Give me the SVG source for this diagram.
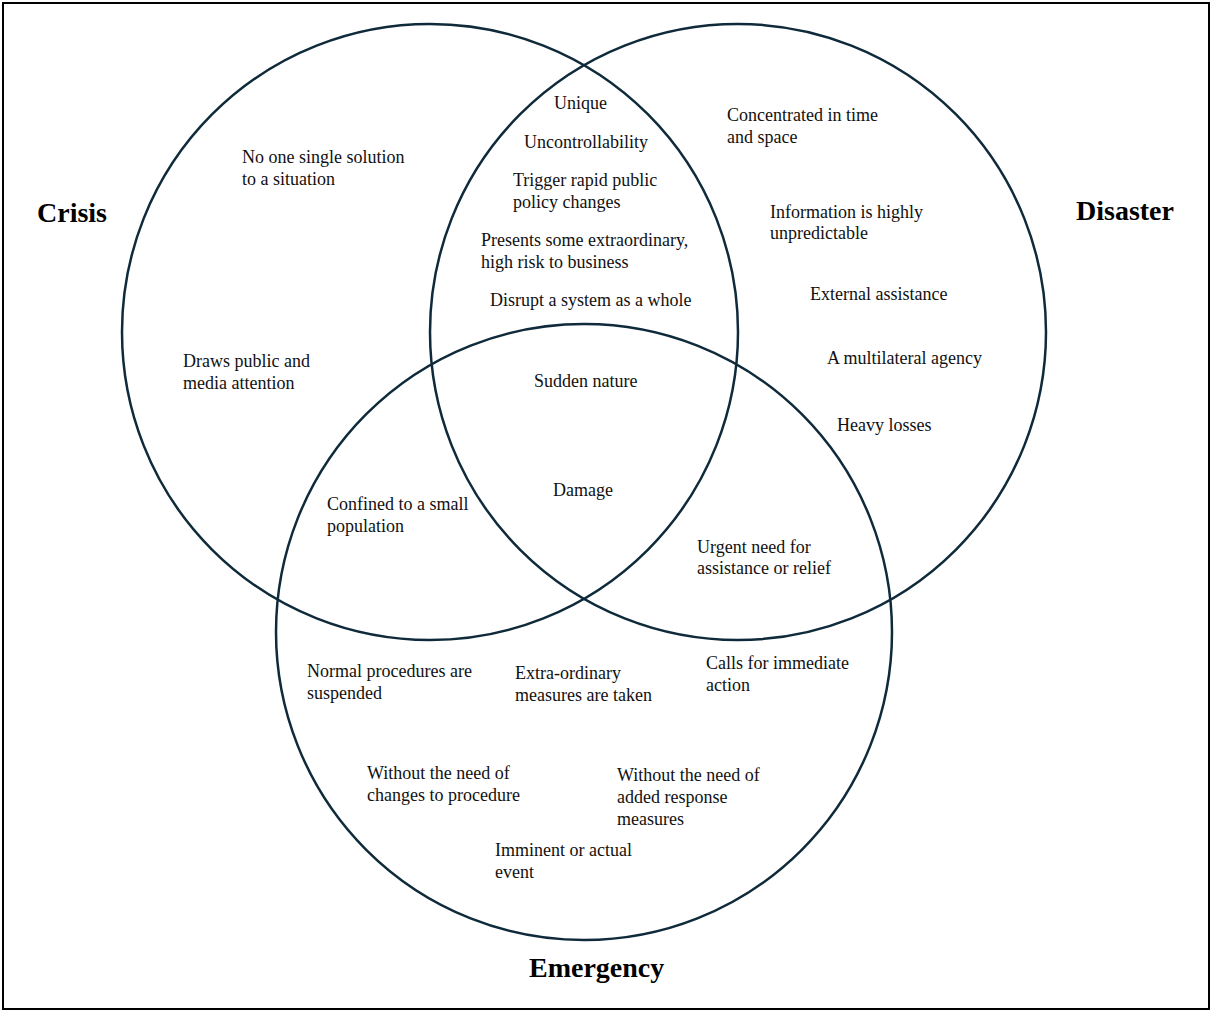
<svg xmlns="http://www.w3.org/2000/svg" width="1212" height="1012" viewBox="0 0 1212 1012">
<style>
.c{fill:none;stroke:#0f2a3a;stroke-width:2.5}
.t{font-family:"Liberation Serif","Times New Roman",serif;font-size:18px;fill:#111}
.h{font-family:"Liberation Serif","Times New Roman",serif;font-size:28px;font-weight:bold;fill:#000}
</style>
<rect x="0" y="0" width="1212" height="1012" fill="#fff"/>
<rect x="3" y="3" width="1206" height="1006" fill="none" stroke="#000" stroke-width="2"/>
<g id="circles">
<circle id="crisis-circle" class="c" cx="430" cy="332" r="308"/>
<circle id="disaster-circle" class="c" cx="738" cy="332" r="308"/>
<circle id="emergency-circle" class="c" cx="584" cy="632" r="308"/>
</g>
<g id="titles">
<text id="crisis" class="h" x="37" y="222">Crisis</text>
<text id="disaster" class="h" x="1076" y="220">Disaster</text>
<text id="emergency" class="h" x="529" y="977">Emergency</text>
</g>
<g id="crisis-disaster">
<text class="t" x="554" y="109">Unique</text>
<text class="t" x="524" y="148">Uncontrollability</text>
<text class="t" x="513" y="186">Trigger rapid public</text>
<text class="t" x="513" y="208">policy changes</text>
<text class="t" x="481" y="246">Presents some extraordinary,</text>
<text class="t" x="481" y="268">high risk to business</text>
<text class="t" x="490" y="306">Disrupt a system as a whole</text>
</g>
<g id="crisis-only">
<text class="t" x="242" y="163">No one single solution</text>
<text class="t" x="242" y="185">to a situation</text>
<text class="t" x="183" y="367">Draws public and</text>
<text class="t" x="183" y="389">media attention</text>
</g>
<g id="disaster-only">
<text class="t" x="727" y="121">Concentrated in time</text>
<text class="t" x="727" y="143">and space</text>
<text class="t" x="770" y="218">Information is highly</text>
<text class="t" x="770" y="239">unpredictable</text>
<text class="t" x="810" y="300">External assistance</text>
<text class="t" x="827" y="364">A multilateral agency</text>
<text class="t" x="837" y="431">Heavy losses</text>
</g>
<g id="all-three">
<text class="t" x="534" y="387">Sudden nature</text>
<text class="t" x="553" y="496">Damage</text>
</g>
<g id="crisis-emergency">
<text class="t" x="327" y="510">Confined to a small</text>
<text class="t" x="327" y="532">population</text>
</g>
<g id="disaster-emergency">
<text class="t" x="697" y="553">Urgent need for</text>
<text class="t" x="697" y="574">assistance or relief</text>
</g>
<g id="emergency-only">
<text class="t" x="307" y="677">Normal procedures are</text>
<text class="t" x="307" y="699">suspended</text>
<text class="t" x="515" y="679">Extra-ordinary</text>
<text class="t" x="515" y="701">measures are taken</text>
<text class="t" x="706" y="669">Calls for immediate</text>
<text class="t" x="706" y="691">action</text>
<text class="t" x="367" y="779">Without the need of</text>
<text class="t" x="367" y="801">changes to procedure</text>
<text class="t" x="617" y="781">Without the need of</text>
<text class="t" x="617" y="803">added response</text>
<text class="t" x="617" y="825">measures</text>
<text class="t" x="495" y="856">Imminent or actual</text>
<text class="t" x="495" y="878">event</text>
</g>
</svg>
